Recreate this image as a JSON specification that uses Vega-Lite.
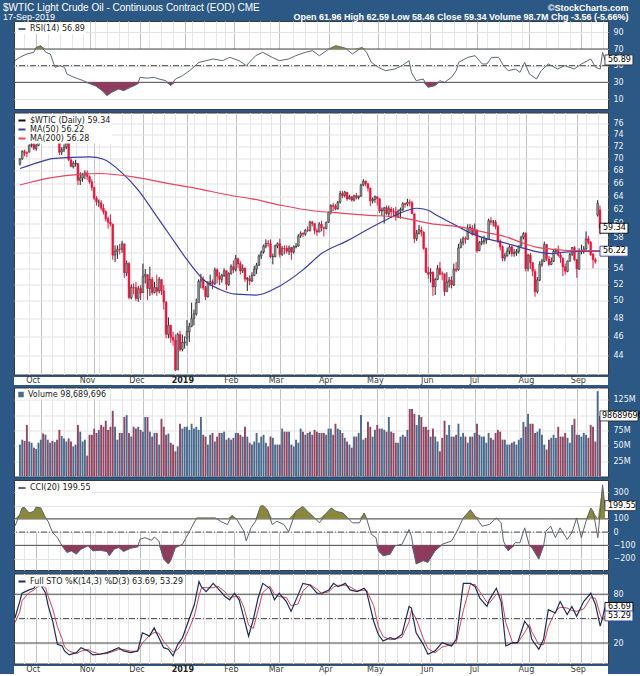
{
"$schema": "https://vega.github.io/schema/vega-lite/v6.json",
"background": "#2c5886",
"padding": {"left": 3, "right": 4, "top": 2, "bottom": 0},
"spacing": 1.5,
"title": {"text": "$WTIC Light Crude Oil - Continuous Contract (EOD) CME", "subtitle": "17-Sep-2019", "anchor": "start", "dx": -9, "offset": -19, "color": "#ffffff", "subtitleColor": "#ffffff", "font": "Liberation Sans", "fontSize": 10, "lineHeight": 10, "fontWeight": "normal", "subtitleFont": "Liberation Sans", "subtitleFontSize": 9, "subtitleLineHeight": 9, "subtitlePadding": 0},
"config": {
  "view": {"fill": "white", "stroke": "#3a3a3a", "strokeWidth": 1},
  "axis": {"labelFont": "DejaVu Sans", "titleFont": "Liberation Sans", "domain": false, "ticks": false, "labelOverlap": false},
  "legend": {"orient": "top-left", "title": null, "fillColor": "white", "padding": 1, "offset": 2, "symbolType": "stroke", "symbolSize": 50, "symbolStrokeWidth": 2, "labelFont": "DejaVu Sans", "labelFontSize": 8, "labelColor": "#222222", "rowPadding": 0, "labelOffset": 3}
},
"resolve": {"scale": {"color": "independent"}, "legend": {"color": "independent"}},
"datasets": {
"px": [
{"i":0,"o":69,"h":70,"l":68.8,"c":69.85,"v":52},
{"i":1,"o":69.9,"h":71.3,"l":69.7,"c":71.12,"v":60},
{"i":2,"o":71.1,"h":71.4,"l":70.3,"c":70.8,"v":58},
{"i":3,"o":70.9,"h":71.1,"l":70.1,"c":70.78,"v":84},
{"i":4,"o":71,"h":72.3,"l":70.9,"c":72.08,"v":57},
{"i":5,"o":72.1,"h":72.6,"l":71.8,"c":72.28,"v":55},
{"i":6,"o":72.3,"h":72.6,"l":71.3,"c":71.57,"v":47},
{"i":7,"o":71.6,"h":72.4,"l":71.2,"c":72.12,"v":45},
{"i":8,"o":72.1,"h":73.4,"l":72,"c":73.25,"v":55},
{"i":9,"o":73.5,"h":75.4,"l":73.4,"c":75.3,"v":60},
{"i":10,"o":75.3,"h":75.9,"l":74.9,"c":75.23,"v":70},
{"i":11,"o":75.2,"h":76.9,"l":75,"c":76.41,"v":68},
{"i":12,"o":76.4,"h":76.5,"l":74,"c":74.33,"v":60},
{"i":13,"o":74.3,"h":74.9,"l":73.9,"c":74.34,"v":55},
{"i":14,"o":74.3,"h":74.9,"l":73.7,"c":74.29,"v":58},
{"i":15,"o":74.3,"h":75.4,"l":73.9,"c":74.96,"v":56},
{"i":16,"o":74.9,"h":75.2,"l":73,"c":73.17,"v":60},
{"i":17,"o":73.1,"h":73.2,"l":70.5,"c":70.97,"v":76},
{"i":18,"o":71,"h":71.8,"l":70.5,"c":71.34,"v":66},
{"i":19,"o":71.4,"h":72.3,"l":71,"c":71.78,"v":62},
{"i":20,"o":71.8,"h":73.1,"l":71.5,"c":72.92,"v":57},
{"i":21,"o":72.8,"h":72.9,"l":69.5,"c":69.75,"v":62},
{"i":22,"o":69.7,"h":70,"l":68.5,"c":68.65,"v":57},
{"i":23,"o":68.6,"h":69.5,"l":68.3,"c":69.12,"v":49},
{"i":24,"o":69.1,"h":69.7,"l":68.6,"c":69.17,"v":52},
{"i":25,"o":69.1,"h":69.2,"l":65.7,"c":66.43,"v":84},
{"i":26,"o":66.4,"h":67.7,"l":65.7,"c":66.82,"v":73},
{"i":27,"o":66.8,"h":67.6,"l":66.2,"c":67.33,"v":57},
{"i":28,"o":67.3,"h":68,"l":66.6,"c":67.59,"v":60},
{"i":29,"o":67.6,"h":68,"l":66.5,"c":67.04,"v":34},
{"i":30,"o":67,"h":67.2,"l":65.9,"c":66.18,"v":68},
{"i":31,"o":66.2,"h":66.6,"l":64.8,"c":65.31,"v":68},
{"i":32,"o":65.3,"h":65.4,"l":63.4,"c":63.69,"v":78},
{"i":33,"o":63.7,"h":64,"l":62.6,"c":63.14,"v":71},
{"i":34,"o":63.1,"h":63.5,"l":62.4,"c":63.1,"v":76},
{"i":35,"o":63,"h":63.4,"l":61.9,"c":62.21,"v":84},
{"i":36,"o":62.2,"h":62.8,"l":61.3,"c":61.67,"v":81},
{"i":37,"o":61.7,"h":61.9,"l":60.3,"c":60.67,"v":91},
{"i":38,"o":60.7,"h":61,"l":59.3,"c":60.19,"v":76},
{"i":39,"o":60.2,"h":61.3,"l":59.6,"c":59.93,"v":81},
{"i":40,"o":59.9,"h":60,"l":55.1,"c":55.69,"v":107},
{"i":41,"o":55.7,"h":57,"l":54.8,"c":56.25,"v":81},
{"i":42,"o":56.2,"h":57,"l":55.2,"c":56.46,"v":60},
{"i":43,"o":56.5,"h":57.2,"l":55.8,"c":56.46,"v":71},
{"i":44,"o":56.5,"h":57.6,"l":56,"c":57.2,"v":71},
{"i":45,"o":57.2,"h":57.2,"l":52.8,"c":53.43,"v":97},
{"i":46,"o":53.4,"h":55,"l":53,"c":54.63,"v":100},
{"i":47,"o":54.6,"h":54.8,"l":50.2,"c":50.42,"v":71},
{"i":48,"o":50.4,"h":52,"l":50.2,"c":51.63,"v":65},
{"i":49,"o":51.6,"h":52.1,"l":50.8,"c":51.56,"v":81},
{"i":50,"o":51.6,"h":52.3,"l":50,"c":50.29,"v":78},
{"i":51,"o":50.3,"h":51.8,"l":49.9,"c":51.45,"v":81},
{"i":52,"o":51.5,"h":51.9,"l":50.1,"c":50.93,"v":76},
{"i":53,"o":51,"h":54.6,"l":51,"c":52.95,"v":73},
{"i":54,"o":53,"h":53.9,"l":52.1,"c":53.25,"v":97},
{"i":55,"o":53.2,"h":53.2,"l":50.1,"c":51.49,"v":97},
{"i":56,"o":51.5,"h":54.2,"l":50.6,"c":52.61,"v":73},
{"i":57,"o":52.6,"h":52.9,"l":50.7,"c":51,"v":65},
{"i":58,"o":51,"h":52.3,"l":50.9,"c":51.65,"v":71},
{"i":59,"o":51.6,"h":53.2,"l":50.6,"c":51.15,"v":71},
{"i":60,"o":51.2,"h":52.9,"l":50.9,"c":52.58,"v":52},
{"i":61,"o":52.6,"h":52.6,"l":50.7,"c":51.2,"v":94},
{"i":62,"o":51.2,"h":51.9,"l":49,"c":49.88,"v":81},
{"i":63,"o":49.9,"h":49.9,"l":45.8,"c":46.24,"v":68},
{"i":64,"o":46.2,"h":48.1,"l":45.8,"c":47.2,"v":70},
{"i":65,"o":47.2,"h":47.3,"l":45.3,"c":45.88,"v":55},
{"i":66,"o":45.9,"h":46.5,"l":45,"c":45.59,"v":52},
{"i":67,"o":45.6,"h":46.2,"l":42.4,"c":42.53,"v":41},
{"i":68,"o":42.5,"h":46.4,"l":42.5,"c":46.22,"v":49},
{"i":69,"o":46.2,"h":46.6,"l":44.4,"c":44.61,"v":86},
{"i":70,"o":44.6,"h":46.2,"l":44.4,"c":45.33,"v":78},
{"i":71,"o":45.3,"h":46,"l":44.7,"c":45.41,"v":81},
{"i":72,"o":45.8,"h":47.8,"l":45,"c":46.54,"v":81},
{"i":73,"o":46.5,"h":47.5,"l":45.4,"c":47.09,"v":76},
{"i":74,"o":47.1,"h":49.8,"l":47,"c":47.96,"v":86},
{"i":75,"o":48,"h":49,"l":47.2,"c":48.52,"v":78},
{"i":76,"o":48.5,"h":50.3,"l":48.3,"c":49.78,"v":81},
{"i":77,"o":49.8,"h":52.6,"l":49.8,"c":52.36,"v":76},
{"i":78,"o":52.4,"h":53.3,"l":51.5,"c":52.59,"v":97},
{"i":79,"o":52.6,"h":53,"l":51.3,"c":51.59,"v":68},
{"i":80,"o":51.6,"h":51.8,"l":50.1,"c":50.51,"v":65},
{"i":81,"o":50.5,"h":52.4,"l":50.4,"c":52.11,"v":52},
{"i":82,"o":52.1,"h":53.2,"l":51.8,"c":52.31,"v":68},
{"i":83,"o":52.3,"h":52.6,"l":51.4,"c":52.07,"v":71},
{"i":84,"o":52.1,"h":54.1,"l":51.9,"c":53.8,"v":57},
{"i":85,"o":53.8,"h":54,"l":52.1,"c":53.01,"v":65},
{"i":86,"o":53,"h":53.5,"l":51.9,"c":52.62,"v":71},
{"i":87,"o":52.6,"h":53.3,"l":52.2,"c":53.13,"v":71},
{"i":88,"o":53.1,"h":54,"l":52.9,"c":53.69,"v":73},
{"i":89,"o":53.7,"h":53.7,"l":51.3,"c":51.99,"v":60},
{"i":90,"o":52,"h":53.5,"l":51.8,"c":53.31,"v":63},
{"i":91,"o":53.3,"h":54.5,"l":53.2,"c":54.23,"v":60},
{"i":92,"o":54.2,"h":55,"l":53.4,"c":53.79,"v":63},
{"i":93,"o":53.8,"h":55.7,"l":53.6,"c":55.26,"v":71},
{"i":94,"o":55.2,"h":55.4,"l":54,"c":54.56,"v":71},
{"i":95,"o":54.6,"h":54.9,"l":53.2,"c":53.66,"v":68},
{"i":96,"o":53.7,"h":54.5,"l":53.4,"c":54.01,"v":65},
{"i":97,"o":54,"h":54.1,"l":52.3,"c":52.64,"v":81},
{"i":98,"o":52.6,"h":52.9,"l":51.2,"c":52.72,"v":65},
{"i":99,"o":52.7,"h":53.1,"l":51.9,"c":52.41,"v":55},
{"i":100,"o":52.4,"h":53.5,"l":52.3,"c":53.1,"v":52},
{"i":101,"o":53.1,"h":54.3,"l":53,"c":53.9,"v":57},
{"i":102,"o":53.9,"h":54.7,"l":53.3,"c":54.41,"v":71},
{"i":103,"o":54.4,"h":55.8,"l":54.3,"c":55.59,"v":55},
{"i":104,"o":55.6,"h":56.3,"l":55.2,"c":56.09,"v":65},
{"i":105,"o":56.1,"h":57.1,"l":55.9,"c":56.92,"v":68},
{"i":106,"o":56.9,"h":57.8,"l":56.6,"c":57.26,"v":55},
{"i":107,"o":57.3,"h":57.7,"l":56.8,"c":57.26,"v":49},
{"i":108,"o":57.2,"h":57.8,"l":55.3,"c":55.48,"v":65},
{"i":109,"o":55.5,"h":55.9,"l":54.5,"c":55.5,"v":63},
{"i":110,"o":55.5,"h":57.1,"l":55.4,"c":56.94,"v":52},
{"i":111,"o":56.9,"h":57.4,"l":56.6,"c":57.22,"v":52},
{"i":112,"o":57.2,"h":57.9,"l":55.4,"c":55.8,"v":52},
{"i":113,"o":55.8,"h":56.9,"l":55.6,"c":56.59,"v":78},
{"i":114,"o":56.6,"h":57,"l":55.8,"c":56.56,"v":73},
{"i":115,"o":56.6,"h":57,"l":55.9,"c":56.22,"v":73},
{"i":116,"o":56.2,"h":57,"l":55.7,"c":56.66,"v":73},
{"i":117,"o":56.7,"h":56.8,"l":55.1,"c":56.07,"v":52},
{"i":118,"o":56.1,"h":57,"l":55.9,"c":56.79,"v":49},
{"i":119,"o":56.8,"h":57.3,"l":56.6,"c":56.87,"v":60},
{"i":120,"o":56.9,"h":58.5,"l":56.8,"c":58.26,"v":55},
{"i":121,"o":58.3,"h":58.9,"l":58,"c":58.61,"v":78},
{"i":122,"o":58.6,"h":58.8,"l":58.1,"c":58.52,"v":73},
{"i":123,"o":58.5,"h":59.2,"l":58.3,"c":59.09,"v":68},
{"i":124,"o":59.1,"h":59.6,"l":58.8,"c":59.03,"v":71},
{"i":125,"o":59,"h":60.4,"l":58.9,"c":60.23,"v":73},
{"i":126,"o":60.2,"h":60.4,"l":59.6,"c":59.98,"v":68},
{"i":127,"o":60,"h":60,"l":58.5,"c":59.04,"v":76},
{"i":128,"o":59,"h":59.3,"l":58.3,"c":58.82,"v":73},
{"i":129,"o":58.8,"h":60.2,"l":58.8,"c":59.94,"v":71},
{"i":130,"o":59.9,"h":60.4,"l":58.9,"c":59.41,"v":71},
{"i":131,"o":59.4,"h":59.6,"l":58.2,"c":59.3,"v":71},
{"i":132,"o":59.3,"h":60.3,"l":59.2,"c":60.14,"v":68},
{"i":133,"o":60.2,"h":61.7,"l":60.1,"c":61.59,"v":78},
{"i":134,"o":61.6,"h":62.8,"l":61.3,"c":62.58,"v":78},
{"i":135,"o":62.6,"h":63,"l":61.8,"c":62.46,"v":68},
{"i":136,"o":62.5,"h":62.8,"l":61.9,"c":62.1,"v":86},
{"i":137,"o":62.1,"h":63.3,"l":62,"c":63.08,"v":78},
{"i":138,"o":63.1,"h":64.8,"l":62.9,"c":64.4,"v":76},
{"i":139,"o":64.4,"h":64.8,"l":63.7,"c":64.05,"v":71},
{"i":140,"o":64.1,"h":64.8,"l":63.8,"c":64.61,"v":63},
{"i":141,"o":64.6,"h":64.6,"l":63.3,"c":63.58,"v":57},
{"i":142,"o":63.6,"h":64.2,"l":63.5,"c":63.89,"v":52},
{"i":143,"o":63.9,"h":64,"l":63.2,"c":63.4,"v":47},
{"i":144,"o":63.4,"h":64.2,"l":63.2,"c":64.05,"v":65},
{"i":145,"o":64.1,"h":64.5,"l":63.5,"c":63.76,"v":65},
{"i":146,"o":63.8,"h":64.1,"l":63.5,"c":64,"v":71},
{"i":147,"o":64,"h":65.9,"l":63.9,"c":65.7,"v":100},
{"i":148,"o":65.7,"h":66.6,"l":65.5,"c":66.3,"v":60},
{"i":149,"o":66.3,"h":66.4,"l":65.5,"c":65.89,"v":63},
{"i":150,"o":65.9,"h":66,"l":64.7,"c":65.21,"v":89},
{"i":151,"o":65.2,"h":65.3,"l":62.5,"c":63.3,"v":81},
{"i":152,"o":63.3,"h":63.8,"l":62.9,"c":63.5,"v":65},
{"i":153,"o":63.5,"h":64.1,"l":63,"c":63.91,"v":76},
{"i":154,"o":63.9,"h":64,"l":62.6,"c":63.6,"v":84},
{"i":155,"o":63.6,"h":63.7,"l":61.5,"c":61.81,"v":78},
{"i":156,"o":61.8,"h":62.3,"l":61.1,"c":61.94,"v":78},
{"i":157,"o":61.9,"h":62.4,"l":60,"c":62.25,"v":76},
{"i":158,"o":62.3,"h":62.6,"l":61.2,"c":61.4,"v":73},
{"i":159,"o":61.4,"h":62.6,"l":61,"c":62.12,"v":97},
{"i":160,"o":62.1,"h":62.4,"l":60.8,"c":61.7,"v":73},
{"i":161,"o":61.7,"h":62.2,"l":60.9,"c":61.66,"v":71},
{"i":162,"o":61.7,"h":62.4,"l":60.4,"c":61.04,"v":55},
{"i":163,"o":61,"h":62,"l":60.8,"c":61.78,"v":55},
{"i":164,"o":61.8,"h":62.3,"l":60.7,"c":62.02,"v":65},
{"i":165,"o":62,"h":63.1,"l":61.8,"c":62.87,"v":68},
{"i":166,"o":62.9,"h":63,"l":62.3,"c":62.76,"v":65},
{"i":167,"o":62.8,"h":63.6,"l":62.5,"c":63.1,"v":76},
{"i":168,"o":63.1,"h":63.5,"l":62.5,"c":62.99,"v":110},
{"i":169,"o":63,"h":63.3,"l":61.3,"c":61.42,"v":110},
{"i":170,"o":61.4,"h":61.4,"l":57.3,"c":57.91,"v":102},
{"i":171,"o":57.9,"h":59.1,"l":57.6,"c":58.63,"v":84},
{"i":172,"o":58.6,"h":59.8,"l":58.5,"c":59.14,"v":100},
{"i":173,"o":59.1,"h":59.6,"l":58.2,"c":58.81,"v":97},
{"i":174,"o":58.8,"h":58.9,"l":56.4,"c":56.59,"v":81},
{"i":175,"o":56.6,"h":56.7,"l":53.4,"c":53.5,"v":81},
{"i":176,"o":53.5,"h":54.2,"l":52.7,"c":53.25,"v":76},
{"i":177,"o":53.3,"h":54,"l":52.2,"c":53.48,"v":65},
{"i":178,"o":53.5,"h":53.6,"l":50.6,"c":51.68,"v":78},
{"i":179,"o":51.7,"h":52.8,"l":50.7,"c":52.59,"v":65},
{"i":180,"o":52.6,"h":54.4,"l":52.5,"c":53.99,"v":57},
{"i":181,"o":54,"h":54.8,"l":53.1,"c":53.26,"v":41},
{"i":182,"o":53.3,"h":53.6,"l":52.5,"c":53.27,"v":63},
{"i":183,"o":53.3,"h":53.3,"l":50.6,"c":51.14,"v":91},
{"i":184,"o":51.1,"h":53.5,"l":51.1,"c":52.28,"v":68},
{"i":185,"o":52.3,"h":52.9,"l":51.6,"c":52.51,"v":84},
{"i":186,"o":52.5,"h":53,"l":51.5,"c":51.93,"v":65},
{"i":187,"o":51.9,"h":54.6,"l":51.8,"c":53.9,"v":65},
{"i":188,"o":53.9,"h":54.8,"l":53.5,"c":53.76,"v":68},
{"i":189,"o":53.8,"h":57.2,"l":53.7,"c":56.65,"v":86},
{"i":190,"o":56.7,"h":57.9,"l":56.6,"c":57.43,"v":65},
{"i":191,"o":57.4,"h":58.2,"l":57,"c":57.9,"v":71},
{"i":192,"o":57.9,"h":58.2,"l":57.2,"c":57.83,"v":65},
{"i":193,"o":57.8,"h":59.9,"l":57.8,"c":59.38,"v":55},
{"i":194,"o":59.4,"h":59.9,"l":58.8,"c":59.43,"v":65},
{"i":195,"o":59.4,"h":59.8,"l":58.3,"c":58.47,"v":65},
{"i":196,"o":58.5,"h":60,"l":58.4,"c":59.09,"v":71},
{"i":197,"o":59.1,"h":59.2,"l":56,"c":56.25,"v":86},
{"i":198,"o":56.3,"h":57.6,"l":56.2,"c":57.34,"v":68},
{"i":199,"o":57.3,"h":58,"l":57,"c":57.51,"v":65},
{"i":200,"o":57.5,"h":58.3,"l":57.1,"c":57.66,"v":65},
{"i":201,"o":57.7,"h":58,"l":57.2,"c":57.83,"v":55},
{"i":202,"o":57.8,"h":60.7,"l":57.8,"c":60.43,"v":71},
{"i":203,"o":60.4,"h":60.9,"l":59.8,"c":60.2,"v":63},
{"i":204,"o":60.2,"h":60.5,"l":59.6,"c":60.21,"v":60},
{"i":205,"o":60.2,"h":60.5,"l":59.2,"c":59.58,"v":71},
{"i":206,"o":59.6,"h":59.8,"l":57.3,"c":57.62,"v":76},
{"i":207,"o":57.6,"h":57.8,"l":56.3,"c":56.78,"v":73},
{"i":208,"o":56.8,"h":57,"l":54.9,"c":55.3,"v":60},
{"i":209,"o":55.3,"h":56,"l":54.9,"c":55.63,"v":60},
{"i":210,"o":55.6,"h":56.7,"l":55.5,"c":56.22,"v":52},
{"i":211,"o":56.2,"h":57,"l":55.8,"c":56.77,"v":52},
{"i":212,"o":56.8,"h":57,"l":55.5,"c":55.88,"v":55},
{"i":213,"o":55.9,"h":56.5,"l":55.5,"c":56.02,"v":57},
{"i":214,"o":56,"h":56.5,"l":55.6,"c":56.2,"v":52},
{"i":215,"o":56.2,"h":57,"l":55.9,"c":56.87,"v":60},
{"i":216,"o":56.9,"h":58.3,"l":56.8,"c":58.05,"v":63},
{"i":217,"o":58.1,"h":58.8,"l":57.8,"c":58.58,"v":89},
{"i":218,"o":58.6,"h":58.8,"l":53.6,"c":53.95,"v":81},
{"i":219,"o":54,"h":55.9,"l":53.6,"c":55.66,"v":102},
{"i":220,"o":55.7,"h":56,"l":53.9,"c":54.69,"v":86},
{"i":221,"o":54.7,"h":54.8,"l":53,"c":53.63,"v":86},
{"i":222,"o":53.6,"h":53.9,"l":50.5,"c":51.09,"v":71},
{"i":223,"o":51.1,"h":52.9,"l":50.9,"c":52.54,"v":73},
{"i":224,"o":52.5,"h":54.9,"l":52.4,"c":54.5,"v":78},
{"i":225,"o":54.5,"h":55.2,"l":54.2,"c":54.93,"v":68},
{"i":226,"o":54.9,"h":57.5,"l":54.8,"c":57.1,"v":52},
{"i":227,"o":57.1,"h":57.2,"l":54.9,"c":55.23,"v":44},
{"i":228,"o":55.2,"h":55.6,"l":54.3,"c":54.47,"v":60},
{"i":229,"o":54.5,"h":55.4,"l":54.4,"c":54.87,"v":63},
{"i":230,"o":54.9,"h":56.5,"l":54.8,"c":56.21,"v":68},
{"i":231,"o":56.2,"h":56.6,"l":55.8,"c":56.34,"v":63},
{"i":232,"o":56.3,"h":57,"l":55.5,"c":55.68,"v":81},
{"i":233,"o":55.7,"h":56,"l":54.7,"c":55.35,"v":65},
{"i":234,"o":55.3,"h":55.4,"l":53,"c":54.17,"v":65},
{"i":235,"o":54.2,"h":54.6,"l":53.2,"c":53.64,"v":71},
{"i":236,"o":53.6,"h":55,"l":53.5,"c":54.93,"v":63},
{"i":237,"o":54.9,"h":56,"l":54.9,"c":55.78,"v":55},
{"i":238,"o":55.8,"h":56.8,"l":55.6,"c":56.71,"v":84},
{"i":239,"o":56.7,"h":56.9,"l":54.9,"c":55.1,"v":94},
{"i":240,"o":55.1,"h":55.2,"l":52.8,"c":53.94,"v":68},
{"i":241,"o":53.9,"h":56.6,"l":53.8,"c":56.26,"v":68},
{"i":242,"o":56.3,"h":57.1,"l":55.8,"c":56.3,"v":65},
{"i":243,"o":56.3,"h":56.9,"l":55.9,"c":56.52,"v":71},
{"i":244,"o":56.5,"h":58.9,"l":56.4,"c":57.85,"v":68},
{"i":245,"o":57.9,"h":58.3,"l":57.1,"c":57.4,"v":63},
{"i":246,"o":57.4,"h":57.6,"l":55.6,"c":55.75,"v":84},
{"i":247,"o":55.8,"h":56,"l":54,"c":55.09,"v":81},
{"i":248,"o":55.1,"h":55.4,"l":54.6,"c":54.85,"v":57},
{"i":249,"o":61.2,"h":63.4,"l":61,"c":62.9,"v":139},
{"i":250,"o":61.96,"h":62.59,"l":58.46,"c":59.34,"v":98.69}
],
"ma": [
{"i":0,"v":68.3,"s":"MA(50) 56.22"},{"i":8,"v":69.3,"s":"MA(50) 56.22"},{"i":14,"v":69.9,"s":"MA(50) 56.22"},{"i":22,"v":70.1,"s":"MA(50) 56.22"},{"i":30,"v":70.2,"s":"MA(50) 56.22"},{"i":36,"v":69.8,"s":"MA(50) 56.22"},{"i":44,"v":67.6,"s":"MA(50) 56.22"},{"i":51,"v":64.9,"s":"MA(50) 56.22"},{"i":58,"v":61.5,"s":"MA(50) 56.22"},{"i":65,"v":58.2,"s":"MA(50) 56.22"},{"i":72,"v":55.1,"s":"MA(50) 56.22"},{"i":79,"v":52.6,"s":"MA(50) 56.22"},{"i":86,"v":51.4,"s":"MA(50) 56.22"},{"i":93,"v":50.8,"s":"MA(50) 56.22"},{"i":102,"v":50.7,"s":"MA(50) 56.22"},{"i":112,"v":51.8,"s":"MA(50) 56.22"},{"i":122,"v":53.8,"s":"MA(50) 56.22"},{"i":130,"v":55.9,"s":"MA(50) 56.22"},{"i":141,"v":57.6,"s":"MA(50) 56.22"},{"i":150,"v":59.2,"s":"MA(50) 56.22"},{"i":157,"v":60.4,"s":"MA(50) 56.22"},{"i":164,"v":61.5,"s":"MA(50) 56.22"},{"i":171,"v":62.2,"s":"MA(50) 56.22"},{"i":176,"v":61.9,"s":"MA(50) 56.22"},{"i":180,"v":61.1,"s":"MA(50) 56.22"},{"i":187,"v":59.9,"s":"MA(50) 56.22"},{"i":194,"v":58.7,"s":"MA(50) 56.22"},{"i":201,"v":57.9,"s":"MA(50) 56.22"},{"i":208,"v":57.4,"s":"MA(50) 56.22"},{"i":215,"v":56.8,"s":"MA(50) 56.22"},{"i":222,"v":56.2,"s":"MA(50) 56.22"},{"i":229,"v":55.9,"s":"MA(50) 56.22"},{"i":235,"v":56.1,"s":"MA(50) 56.22"},{"i":241,"v":56.2,"s":"MA(50) 56.22"},{"i":250,"v":56.22,"s":"MA(50) 56.22"},
{"i":0,"v":65.7,"s":"MA(200) 56.28"},{"i":13,"v":66.8,"s":"MA(200) 56.28"},{"i":27,"v":67.4,"s":"MA(200) 56.28"},{"i":34,"v":67.5,"s":"MA(200) 56.28"},{"i":50,"v":66.9,"s":"MA(200) 56.28"},{"i":63,"v":66,"s":"MA(200) 56.28"},{"i":77,"v":65.1,"s":"MA(200) 56.28"},{"i":91,"v":64.1,"s":"MA(200) 56.28"},{"i":100,"v":63.6,"s":"MA(200) 56.28"},{"i":113,"v":62.6,"s":"MA(200) 56.28"},{"i":127,"v":61.8,"s":"MA(200) 56.28"},{"i":138,"v":61.5,"s":"MA(200) 56.28"},{"i":149,"v":61.2,"s":"MA(200) 56.28"},{"i":163,"v":60.9,"s":"MA(200) 56.28"},{"i":177,"v":60,"s":"MA(200) 56.28"},{"i":192,"v":59.4,"s":"MA(200) 56.28"},{"i":200,"v":58.8,"s":"MA(200) 56.28"},{"i":209,"v":58.2,"s":"MA(200) 56.28"},{"i":216,"v":57.4,"s":"MA(200) 56.28"},{"i":222,"v":56.8,"s":"MA(200) 56.28"},{"i":229,"v":56.5,"s":"MA(200) 56.28"},{"i":236,"v":56.3,"s":"MA(200) 56.28"},{"i":250,"v":56.28,"s":"MA(200) 56.28"}
],
"rsi": [
{"i":0,"v":56},{"i":2,"v":60},{"i":5,"v":64},{"i":8,"v":66},{"i":9,"v":72},{"i":11,"v":74},{"i":13,"v":66},{"i":15,"v":64},{"i":17,"v":48},{"i":19,"v":50},{"i":21,"v":48},{"i":22,"v":40},{"i":25,"v":36},{"i":27,"v":34},{"i":29,"v":32},{"i":32,"v":28},{"i":34,"v":26},{"i":37,"v":20},{"i":39,"v":14},{"i":41,"v":18},{"i":44,"v":22},{"i":46,"v":20},{"i":49,"v":24},{"i":52,"v":28},{"i":53,"v":36},{"i":56,"v":35},{"i":59,"v":36},{"i":61,"v":34},{"i":64,"v":32},{"i":66,"v":26},{"i":68,"v":34},{"i":71,"v":38},{"i":74,"v":44},{"i":78,"v":54},{"i":81,"v":56},{"i":84,"v":58},{"i":88,"v":56},{"i":91,"v":60},{"i":95,"v":56},{"i":98,"v":50},{"i":102,"v":62},{"i":105,"v":66},{"i":109,"v":60},{"i":112,"v":56},{"i":116,"v":58},{"i":119,"v":62},{"i":123,"v":66},{"i":126,"v":68},{"i":129,"v":62},{"i":133,"v":70},{"i":136,"v":74},{"i":140,"v":71},{"i":143,"v":64},{"i":147,"v":72},{"i":149,"v":66},{"i":151,"v":54},{"i":154,"v":48},{"i":157,"v":44},{"i":161,"v":46},{"i":164,"v":50},{"i":167,"v":56},{"i":168,"v":42},{"i":170,"v":32},{"i":173,"v":34},{"i":175,"v":24},{"i":178,"v":26},{"i":180,"v":32},{"i":182,"v":30},{"i":185,"v":36},{"i":187,"v":44},{"i":188,"v":54},{"i":192,"v":60},{"i":195,"v":62},{"i":198,"v":52},{"i":200,"v":52},{"i":202,"v":60},{"i":205,"v":60},{"i":207,"v":50},{"i":209,"v":44},{"i":212,"v":46},{"i":214,"v":42},{"i":216,"v":54},{"i":218,"v":40},{"i":221,"v":34},{"i":223,"v":44},{"i":226,"v":52},{"i":230,"v":46},{"i":233,"v":50},{"i":237,"v":46},{"i":240,"v":52},{"i":244,"v":58},{"i":246,"v":48},{"i":248,"v":46},{"i":249,"v":66},{"i":250,"v":56.89}
],
"cci": [
{"i":0,"v":45},{"i":2,"v":132},{"i":3,"v":182},{"i":4,"v":187},{"i":6,"v":144},{"i":8,"v":157},{"i":9,"v":189},{"i":11,"v":182},{"i":13,"v":107},{"i":14,"v":82},{"i":16,"v":-5},{"i":18,"v":-42},{"i":20,"v":-104},{"i":22,"v":-154},{"i":24,"v":-142},{"i":26,"v":-167},{"i":28,"v":-129},{"i":31,"v":-104},{"i":33,"v":-142},{"i":36,"v":-137},{"i":39,"v":-147},{"i":40,"v":-179},{"i":42,"v":-129},{"i":44,"v":-117},{"i":46,"v":-147},{"i":49,"v":-122},{"i":52,"v":-112},{"i":53,"v":-55},{"i":55,"v":-42},{"i":58,"v":-62},{"i":59,"v":-37},{"i":61,"v":-67},{"i":63,"v":-204},{"i":65,"v":-241},{"i":66,"v":-216},{"i":68,"v":-117},{"i":71,"v":-92},{"i":74,"v":7},{"i":77,"v":107},{"i":79,"v":107},{"i":82,"v":107},{"i":85,"v":107},{"i":87,"v":82},{"i":90,"v":57},{"i":92,"v":127},{"i":94,"v":95},{"i":97,"v":7},{"i":98,"v":-67},{"i":100,"v":32},{"i":102,"v":82},{"i":104,"v":194},{"i":105,"v":202},{"i":107,"v":169},{"i":109,"v":57},{"i":111,"v":82},{"i":114,"v":57},{"i":116,"v":2},{"i":119,"v":157},{"i":122,"v":194},{"i":124,"v":157},{"i":127,"v":107},{"i":129,"v":70},{"i":132,"v":144},{"i":134,"v":182},{"i":136,"v":157},{"i":139,"v":144},{"i":141,"v":107},{"i":143,"v":70},{"i":146,"v":70},{"i":148,"v":144},{"i":149,"v":102},{"i":151,"v":-17},{"i":153,"v":-42},{"i":154,"v":-142},{"i":156,"v":-179},{"i":159,"v":-167},{"i":161,"v":-104},{"i":164,"v":-92},{"i":167,"v":20},{"i":168,"v":-30},{"i":170,"v":-241},{"i":173,"v":-216},{"i":175,"v":-229},{"i":178,"v":-142},{"i":181,"v":-92},{"i":185,"v":-67},{"i":187,"v":-5},{"i":190,"v":107},{"i":193,"v":169},{"i":195,"v":119},{"i":198,"v":45},{"i":201,"v":57},{"i":204,"v":107},{"i":206,"v":70},{"i":207,"v":-67},{"i":209,"v":-142},{"i":212,"v":-80},{"i":214,"v":-80},{"i":216,"v":32},{"i":218,"v":-104},{"i":219,"v":-117},{"i":222,"v":-204},{"i":224,"v":-104},{"i":225,"v":7},{"i":227,"v":45},{"i":229,"v":-42},{"i":231,"v":32},{"i":234,"v":-55},{"i":236,"v":-5},{"i":238,"v":107},{"i":240,"v":-42},{"i":242,"v":82},{"i":244,"v":182},{"i":245,"v":157},{"i":247,"v":-42},{"i":249,"v":356},{"i":250,"v":199.55}
],
"sto": [
{"i":0,"k":50.8,"d":45},{"i":2,"k":71,"d":58},{"i":3,"k":81.2,"d":72},{"i":6,"k":85.3,"d":82},{"i":8,"k":87.3,"d":85},{"i":9,"k":92.2,"d":88},{"i":11,"k":91.4,"d":91},{"i":13,"k":81.2,"d":88},{"i":14,"k":67,"d":78},{"i":16,"k":46.8,"d":62},{"i":18,"k":18.4,"d":40},{"i":20,"k":16.4,"d":25},{"i":21,"k":10.3,"d":15},{"i":23,"k":5.4,"d":10},{"i":26,"k":8.2,"d":7},{"i":28,"k":14.3,"d":10},{"i":31,"k":10.3,"d":12},{"i":33,"k":5.4,"d":9},{"i":36,"k":6.2,"d":6.5},{"i":39,"k":8.2,"d":7},{"i":41,"k":10.3,"d":9},{"i":44,"k":14.3,"d":12},{"i":46,"k":10.3,"d":12},{"i":49,"k":8.2,"d":10},{"i":52,"k":10.3,"d":9.5},{"i":54,"k":32.6,"d":20},{"i":57,"k":28.5,"d":29},{"i":59,"k":38.6,"d":33},{"i":61,"k":26.5,"d":32},{"i":63,"k":14.3,"d":22},{"i":65,"k":12.3,"d":15},{"i":67,"k":4.2,"d":9},{"i":69,"k":18.4,"d":12},{"i":71,"k":26.5,"d":20},{"i":73,"k":42.7,"d":32},{"i":76,"k":67,"d":53},{"i":78,"k":95.4,"d":78},{"i":79,"k":89.3,"d":88},{"i":81,"k":83.2,"d":88},{"i":84,"k":93.4,"d":88},{"i":86,"k":87.3,"d":90},{"i":89,"k":77.2,"d":83},{"i":91,"k":73.1,"d":76},{"i":93,"k":81.2,"d":77},{"i":95,"k":73.1,"d":77},{"i":97,"k":50.8,"d":64},{"i":99,"k":28.5,"d":42},{"i":101,"k":48.8,"d":38},{"i":103,"k":75.1,"d":60},{"i":105,"k":93.4,"d":82},{"i":108,"k":87.3,"d":90},{"i":110,"k":73.1,"d":80},{"i":112,"k":81.2,"d":77},{"i":115,"k":71,"d":76},{"i":117,"k":58.9,"d":66},{"i":120,"k":79.2,"d":68},{"i":122,"k":93.4,"d":84},{"i":125,"k":91.4,"d":92},{"i":128,"k":81.2,"d":86},{"i":130,"k":81.2,"d":81},{"i":133,"k":85.3,"d":83},{"i":135,"k":93.4,"d":89},{"i":137,"k":89.3,"d":91},{"i":140,"k":93.4,"d":91},{"i":142,"k":85.3,"d":89},{"i":145,"k":83.2,"d":84},{"i":148,"k":87.3,"d":85},{"i":149,"k":83.2,"d":85},{"i":152,"k":46.8,"d":66},{"i":154,"k":30.5,"d":40},{"i":156,"k":22.4,"d":28},{"i":159,"k":26.5,"d":24},{"i":161,"k":24.5,"d":25},{"i":164,"k":30.5,"d":27},{"i":167,"k":65,"d":46},{"i":168,"k":63,"d":60},{"i":170,"k":32.6,"d":50},{"i":173,"k":18.4,"d":26},{"i":175,"k":6.2,"d":13},{"i":178,"k":10.3,"d":8},{"i":181,"k":20.4,"d":15},{"i":185,"k":16.4,"d":18},{"i":187,"k":24.5,"d":20},{"i":190,"k":93.4,"d":60},{"i":193,"k":93.4,"d":92},{"i":195,"k":89.3,"d":92},{"i":197,"k":75.1,"d":83},{"i":200,"k":65,"d":70},{"i":201,"k":73.1,"d":69},{"i":204,"k":87.3,"d":80},{"i":206,"k":71,"d":79},{"i":208,"k":16.4,"d":45},{"i":211,"k":20.4,"d":19},{"i":213,"k":20.4,"d":20},{"i":216,"k":46.8,"d":33},{"i":218,"k":38.6,"d":43},{"i":219,"k":24.5,"d":34},{"i":222,"k":12.3,"d":18},{"i":224,"k":24.5,"d":18},{"i":226,"k":61,"d":40},{"i":229,"k":56.9,"d":59},{"i":231,"k":71,"d":64},{"i":234,"k":54.9,"d":63},{"i":236,"k":65,"d":60},{"i":238,"k":52.8,"d":59},{"i":241,"k":71,"d":62},{"i":244,"k":81.2,"d":76},{"i":246,"k":67,"d":75},{"i":248,"k":40.7,"d":55},{"i":249,"k":50.8,"d":48},{"i":250,"k":63.69,"d":53.29}
],
"months": [{"i":9,"m":"Oct"},{"i":32,"m":"Nov"},{"i":53,"m":"Dec"},{"i":72,"m":"2019"},{"i":93,"m":"Feb"},{"i":112,"m":"Mar"},{"i":133,"m":"Apr"},{"i":154,"m":"May"},{"i":176,"m":"Jun"},{"i":196,"m":"Jul"},{"i":218,"m":"Aug"},{"i":240,"m":"Sep"}],
"rR": [{"y":70,"k":"s"},{"y":30,"k":"s"},{"y":50,"k":"d"}],
"rC": [{"y":100,"k":"s"},{"y":-100,"k":"s"},{"y":0,"k":"d"}],
"rS": [{"y":80,"k":"s"},{"y":20,"k":"s"},{"y":50,"k":"d"}]
},
"vconcat": [
{
 "width": 594, "height": 88,
 "layer": [
  {"data": {"name": "rR"}, "mark": {"type": "rule", "color": "#4a4a4a", "strokeWidth": 1}, "encoding": {"y": {"field": "y", "type": "quantitative", "scale": {"domain": [-2, 103.6], "nice": false}, "axis": null}, "strokeDash": {"field": "k", "type": "nominal", "scale": {"domain": ["s","d"], "range": [[1,0],[6,2,1,2]]}, "legend": null}}},
  {"data": {"name": "rsi"},
   "encoding": {"x": {"field": "i", "type": "quantitative", "scale": {"domain": [-0.4, 251.3], "nice": false, "zero": false},
     "axis": {"orient": "top", "values": [4,9,14,19,24,29,32,34,39,44,48,53,57,62,67,72,75,80,85,89,93,99,104,108,112,118,123,128,133,138,143,147,154,157,162,167,172,176,181,186,191,196,200,205,210,215,218,225,230,235,240,244,249], "labels": false, "grid": true, "gridColor": {"condition": {"test": "indexof([9,32,53,72,93,112,133,154,176,196,218,240], datum.value) >= 0", "value": "#c2c2c2"}, "value": "#e6e6e6"},
       "title": ["©StockCharts.com", "Open 61.96  High 62.59  Low 58.46  Close 59.34  Volume 98.7M  Chg -3.56 (-5.66%)"], "titleColor": "#ffffff", "titleFont": "Liberation Sans", "titleFontSize": 9, "titleFontWeight": "bold", "titleLineHeight": 9, "titleAlign": "right", "titleAnchor": "end", "titlePadding": 0, "titleX": 614}}},
   "layer": [
    {"mark": {"type": "area", "color": "#8a883c"}, "encoding": {"y": {"field": "v", "type": "quantitative", "scale": {"domain": [70, 103.6], "range": [28, 0], "clamp": true, "nice": false}, "axis": null}, "y2": {"datum": 70}}},
    {"mark": {"type": "area", "color": "#8e3c5d"}, "encoding": {"y": {"field": "v", "type": "quantitative", "scale": {"domain": [-2, 30], "range": [88, 61.33], "clamp": true, "nice": false}, "axis": null}, "y2": {"datum": 30}}},
    {"mark": {"type": "line", "strokeWidth": 1}, "encoding": {"y": {"field": "v", "type": "quantitative", "scale": {"domain": [-2, 103.6], "nice": false}, "axis": {"orient": "right", "values": [10,30,50,70,90], "title": null, "grid": true, "gridColor": "#e3e3e3", "labelColor": "#eef2f6", "labelFontSize": 8, "labelPadding": 5, "labelOverlap": false}}, "color": {"datum": "RSI(14) 56.89", "scale": {"range": ["#5b6878"]}}}},
    {"data": {"values": [{"i": 250, "y": 56.89, "t": "56.89"}]}, "encoding": {"y": {"field": "y", "type": "quantitative", "scale": {"domain": [-2, 103.6], "nice": false}, "axis": null}},
     "layer": [
      {"mark": {"type": "point", "shape": "M0,-1H5.6V1H0Z", "size": 100, "filled": true, "fill": "white", "stroke": "#222", "strokeWidth": 0.8, "opacity": 1}},
      {"mark": {"type": "text", "align": "left", "dx": 3, "fontSize": 8, "font": "DejaVu Sans", "color": "#000"}, "encoding": {"text": {"field": "t"}}}
     ]}
   ],
   "resolve": {"scale": {"y": "independent"}}
  }
 ],
 "resolve": {"scale": {"y": "independent"}}
},
{
 "width": 594, "height": 262,
 "encoding": {"x": {"field": "i", "type": "quantitative", "scale": {"domain": [-0.4, 251.3], "nice": false, "zero": false},
   "axis": {"values": [4,9,14,19,24,29,32,34,39,44,48,53,57,62,67,72,75,80,85,89,93,99,104,108,112,118,123,128,133,138,143,147,154,157,162,167,172,176,181,186,191,196,200,205,210,215,218,225,230,235,240,244,249], "labels": false, "title": null, "grid": true, "gridColor": {"condition": {"test": "indexof([9,32,53,72,93,112,133,154,176,196,218,240], datum.value) >= 0", "value": "#c2c2c2"}, "value": "#e6e6e6"}}}},
 "layer": [
  {"data": {"name": "px"}, "mark": {"type": "rule", "strokeWidth": 1}, "encoding": {"y": {"field": "l", "type": "quantitative", "scale": {"type": "log", "domain": [42.05, 77.93], "nice": false}, "axis": {"orient": "right", "values": [44,46,48,50,52,54,56,58,60,62,64,66,68,70,72,74,76], "title": null, "grid": true, "gridColor": "#e3e3e3", "labelColor": "#eef2f6", "labelFontSize": 8, "labelPadding": 5, "labelOverlap": false}}, "y2": {"field": "h"}, "color": {"condition": {"test": "datum.c < datum.o", "value": "#e5173f"}, "value": "#222222"}}},
  {"data": {"name": "px"}, "mark": {"type": "bar", "size": 1.8, "strokeWidth": 0.5}, "encoding": {"y": {"field": "o", "type": "quantitative", "scale": {"type": "log", "domain": [42.05, 77.93], "nice": false}}, "y2": {"field": "c"}, "fill": {"condition": {"test": "datum.c < datum.o", "value": "#e5173f"}, "value": "#9a9a9a"}, "stroke": {"condition": {"test": "datum.c < datum.o", "value": "#e5173f"}, "value": "#222222"}}},
  {"data": {"name": "ma"}, "mark": {"type": "line", "strokeWidth": 1.2, "interpolate": "monotone"}, "encoding": {"y": {"field": "v", "type": "quantitative", "scale": {"type": "log", "domain": [42.05, 77.93], "nice": false}}, "color": {"field": "s", "type": "nominal", "scale": {"domain": ["$WTIC (Daily) 59.34", "MA(50) 56.22", "MA(200) 56.28"], "range": ["#111111", "#3b3f9e", "#e54660"]}}}},
  {"data": {"values": [{"i": 250, "y": 59.34, "t": "59.34"}, {"i": 250, "y": 56.22, "t": "56.22"}]}, "encoding": {"y": {"field": "y", "type": "quantitative", "scale": {"type": "log", "domain": [42.05, 77.93], "nice": false}}},
   "layer": [
    {"mark": {"type": "point", "shape": "M0,-1H5.6V1H0Z", "size": 100, "filled": true, "fill": "white", "strokeWidth": 0.9, "opacity": 1}, "encoding": {"stroke": {"field": "t", "type": "nominal", "scale": {"domain": ["59.34", "56.22"], "range": ["#000000", "#3b3f9e"]}, "legend": null}}},
    {"mark": {"type": "text", "align": "left", "dx": 3, "fontSize": 8, "font": "DejaVu Sans", "color": "#000"}, "encoding": {"text": {"field": "t"}}}
   ]}
 ]
},
{
 "width": 594, "height": 8, "view": {"stroke": null, "fill": "white"},
 "data": {"name": "months"},
 "encoding": {"x": {"field": "i", "type": "quantitative", "scale": {"domain": [-0.4, 251.3], "nice": false, "zero": false}, "axis": null}, "text": {"field": "m"}},
 "layer": [
  {"transform": [{"filter": "datum.m != '2019'"}], "mark": {"type": "text", "font": "DejaVu Sans", "fontSize": 8, "color": "#3a3a3a", "dx": -3}},
  {"transform": [{"filter": "datum.m == '2019'"}], "mark": {"type": "text", "font": "DejaVu Sans", "fontSize": 8, "fontWeight": "bold", "color": "#222", "dx": -2}}
 ]
},
{
 "width": 594, "height": 89,
 "encoding": {"x": {"field": "i", "type": "quantitative", "scale": {"domain": [-0.4, 251.3], "nice": false, "zero": false},
   "axis": {"values": [4,9,14,19,24,29,32,34,39,44,48,53,57,62,67,72,75,80,85,89,93,99,104,108,112,118,123,128,133,138,143,147,154,157,162,167,172,176,181,186,191,196,200,205,210,215,218,225,230,235,240,244,249], "labels": false, "title": null, "grid": true, "gridColor": {"condition": {"test": "indexof([9,32,53,72,93,112,133,154,176,196,218,240], datum.value) >= 0", "value": "#c2c2c2"}, "value": "#e6e6e6"}}}},
 "layer": [
  {"data": {"name": "px"}, "mark": {"type": "bar", "size": 1.9}, "encoding": {"y": {"field": "v", "type": "quantitative", "scale": {"domain": [0, 145], "nice": false}, "axis": {"orient": "right", "values": [25,50,75,100,125], "labelExpr": "datum.label + 'M'", "title": null, "grid": true, "gridColor": "#e3e3e3", "labelColor": "#eef2f6", "labelFontSize": 8, "labelPadding": 5, "labelOverlap": false}}, "color": {"datum": "Volume 98,689,696", "scale": {"range": ["#4a6b8d"]}, "legend": {"symbolType": "square", "symbolSize": 30}, "condition": {"test": "datum.c < datum.o", "value": "#904560"}}}},
  {"data": {"values": [{"i": 250, "y": 98.69, "t": "98689696"}]}, "encoding": {"y": {"field": "y", "type": "quantitative", "scale": {"domain": [0, 145], "nice": false}, "axis": {"orient": "right", "values": [25,50,75,100,125], "labelExpr": "datum.label + 'M'", "title": null, "grid": true, "gridColor": "#e3e3e3", "labelColor": "#eef2f6", "labelFontSize": 8, "labelPadding": 5, "labelOverlap": false}}},
   "layer": [
    {"mark": {"type": "point", "shape": "M0,-1H7.6V1H0Z", "size": 100, "filled": true, "fill": "white", "stroke": "#222", "strokeWidth": 0.8, "opacity": 1}},
    {"mark": {"type": "text", "align": "left", "dx": 2, "fontSize": 8, "font": "DejaVu Sans", "color": "#000"}, "encoding": {"text": {"field": "t"}}}
   ]}
 ]
},
{
 "width": 594, "height": 90,
 "layer": [
  {"data": {"name": "rC"}, "mark": {"type": "rule", "color": "#4a4a4a", "strokeWidth": 1}, "encoding": {"y": {"field": "y", "type": "quantitative", "scale": {"domain": [-286, 393], "nice": false}, "axis": null}, "strokeDash": {"field": "k", "type": "nominal", "scale": {"domain": ["s","d"], "range": [[1,0],[6,2,1,2]]}, "legend": null}}},
  {"data": {"name": "cci"},
   "encoding": {"x": {"field": "i", "type": "quantitative", "scale": {"domain": [-0.4, 251.3], "nice": false, "zero": false},
     "axis": {"values": [4,9,14,19,24,29,32,34,39,44,48,53,57,62,67,72,75,80,85,89,93,99,104,108,112,118,123,128,133,138,143,147,154,157,162,167,172,176,181,186,191,196,200,205,210,215,218,225,230,235,240,244,249], "labels": false, "title": null, "grid": true, "gridColor": {"condition": {"test": "indexof([9,32,53,72,93,112,133,154,176,196,218,240], datum.value) >= 0", "value": "#c2c2c2"}, "value": "#e6e6e6"}}}},
   "layer": [
    {"mark": {"type": "area", "color": "#8a883c"}, "encoding": {"y": {"field": "v", "type": "quantitative", "scale": {"domain": [100, 393], "range": [38.84, 0], "clamp": true, "nice": false}, "axis": null}, "y2": {"datum": 100}}},
    {"mark": {"type": "area", "color": "#8e3c5d"}, "encoding": {"y": {"field": "v", "type": "quantitative", "scale": {"domain": [-286, -100], "range": [90, 65.35], "clamp": true, "nice": false}, "axis": null}, "y2": {"datum": -100}}},
    {"mark": {"type": "line", "strokeWidth": 1}, "encoding": {"y": {"field": "v", "type": "quantitative", "scale": {"domain": [-286, 393], "nice": false}, "axis": {"orient": "right", "values": [-200,-100,0,100,200,300], "title": null, "grid": true, "gridColor": "#e3e3e3", "labelColor": "#eef2f6", "labelFontSize": 8, "labelPadding": 5, "labelOverlap": false}}, "color": {"datum": "CCI(20) 199.55", "scale": {"range": ["#5b6470"]}}}},
    {"data": {"values": [{"i": 250, "y": 199.55, "t": "199.55"}]}, "encoding": {"y": {"field": "y", "type": "quantitative", "scale": {"domain": [-286, 393], "nice": false}, "axis": null}},
     "layer": [
      {"mark": {"type": "point", "shape": "M0,-1H6.2V1H0Z", "size": 100, "filled": true, "fill": "white", "stroke": "#222", "strokeWidth": 0.8, "opacity": 1}},
      {"mark": {"type": "text", "align": "left", "dx": 3, "fontSize": 8, "font": "DejaVu Sans", "color": "#000"}, "encoding": {"text": {"field": "t"}}}
     ]}
   ],
   "resolve": {"scale": {"y": "independent"}}
  }
 ],
 "resolve": {"scale": {"y": "independent"}}
},
{
 "width": 594, "height": 90,
 "layer": [
  {"data": {"name": "rS"}, "mark": {"type": "rule", "color": "#4a4a4a", "strokeWidth": 1}, "encoding": {"y": {"field": "y", "type": "quantitative", "scale": {"domain": [-5.2, 105.5], "nice": false}, "axis": null}, "strokeDash": {"field": "k", "type": "nominal", "scale": {"domain": ["s","d"], "range": [[1,0],[6,2,1,2]]}, "legend": null}}},
  {"data": {"name": "sto"},
   "encoding": {"x": {"field": "i", "type": "quantitative", "scale": {"domain": [-0.4, 251.3], "nice": false, "zero": false},
     "axis": {"values": [4,9,14,19,24,29,32,34,39,44,48,53,57,62,67,72,75,80,85,89,93,99,104,108,112,118,123,128,133,138,143,147,154,157,162,167,172,176,181,186,191,196,200,205,210,215,218,225,230,235,240,244,249], "labels": false, "title": null, "grid": true, "gridColor": {"condition": {"test": "indexof([9,32,53,72,93,112,133,154,176,196,218,240], datum.value) >= 0", "value": "#c2c2c2"}, "value": "#e6e6e6"}}}},
   "layer": [
    {"mark": {"type": "line", "strokeWidth": 1, "color": "#c24a5a"}, "encoding": {"y": {"field": "d", "type": "quantitative", "scale": {"domain": [-5.2, 105.5], "nice": false}, "axis": null}}},
    {"mark": {"type": "line", "strokeWidth": 1.2}, "encoding": {"y": {"field": "k", "type": "quantitative", "scale": {"domain": [-5.2, 105.5], "nice": false}, "axis": {"orient": "right", "values": [20,50,80], "title": null, "grid": true, "gridColor": "#e3e3e3", "labelColor": "#eef2f6", "labelFontSize": 8, "labelPadding": 5, "labelOverlap": false}}, "color": {"datum": "Full STO %K(14,3) %D(3) 63.69, 53.29", "scale": {"range": ["#1e2d55"]}}}},
    {"data": {"values": [{"i": 250, "y": 63.69, "t": "63.69"}, {"i": 250, "y": 53.29, "t": "53.29"}]}, "encoding": {"y": {"field": "y", "type": "quantitative", "scale": {"domain": [-5.2, 105.5], "nice": false}, "axis": null}},
     "layer": [
      {"mark": {"type": "point", "shape": "M0,-1H5.6V1H0Z", "size": 100, "filled": true, "fill": "white", "strokeWidth": 0.9, "opacity": 1}, "encoding": {"stroke": {"field": "t", "type": "nominal", "scale": {"domain": ["63.69", "53.29"], "range": ["#1e2d55", "#c24a5a"]}, "legend": null}}},
      {"mark": {"type": "text", "align": "left", "dx": 3, "fontSize": 8, "font": "DejaVu Sans", "color": "#000"}, "encoding": {"text": {"field": "t"}}}
     ]}
   ],
   "resolve": {"scale": {"y": "independent"}}
  }
 ],
 "resolve": {"scale": {"y": "independent"}}
},
{
 "width": 594, "height": 8, "view": {"stroke": null, "fill": "white"},
 "data": {"name": "months"},
 "encoding": {"x": {"field": "i", "type": "quantitative", "scale": {"domain": [-0.4, 251.3], "nice": false, "zero": false}, "axis": null}, "text": {"field": "m"}},
 "layer": [
  {"transform": [{"filter": "datum.m != '2019'"}], "mark": {"type": "text", "font": "DejaVu Sans", "fontSize": 8, "color": "#3a3a3a", "dx": -3}},
  {"transform": [{"filter": "datum.m == '2019'"}], "mark": {"type": "text", "font": "DejaVu Sans", "fontSize": 8, "fontWeight": "bold", "color": "#222", "dx": -2}}
 ]
}
]
}
